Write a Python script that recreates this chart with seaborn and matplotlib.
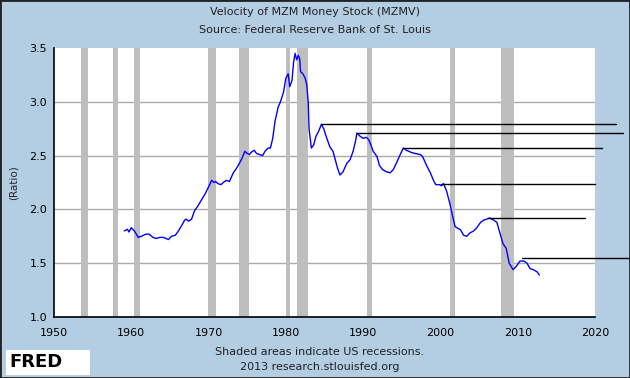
import numpy as np
import pandas as pd
import matplotlib
matplotlib.use('Agg')
import matplotlib.pyplot as plt
import seaborn as sns
from matplotlib.patches import Rectangle

# MZM velocity (year, ratio)
years = [1959.1, 1959.5, 1959.7, 1960.0, 1960.4, 1960.9, 1961.3, 1961.9, 1962.3, 1962.8,
         1963.2, 1963.7, 1964.1, 1964.5, 1964.8, 1965.2, 1965.7, 1966.1, 1966.6, 1966.9,
         1967.1, 1967.4, 1967.8, 1968.2, 1968.6, 1969.1, 1969.6, 1970.0, 1970.4, 1970.7,
         1970.9, 1971.2, 1971.6, 1971.9, 1972.3, 1972.7, 1973.2, 1973.6, 1974.0, 1974.3,
         1974.7, 1975.0, 1975.3, 1975.5, 1975.9, 1976.2, 1976.6, 1977.0, 1977.3, 1977.7,
         1978.0, 1978.3, 1978.6, 1979.0, 1979.3, 1979.7, 1980.0, 1980.3, 1980.5, 1980.8,
         1981.0, 1981.2, 1981.4, 1981.6, 1981.8, 1981.9, 1982.2, 1982.5, 1982.7, 1982.9,
         1983.0, 1983.3, 1983.6, 1983.9, 1984.2, 1984.6, 1984.9, 1985.3, 1985.7, 1986.1,
         1986.4, 1986.7, 1987.0, 1987.4, 1987.9, 1988.3, 1988.7, 1989.0, 1989.2, 1989.6,
         1990.0, 1990.4, 1990.7, 1991.0, 1991.3, 1991.8, 1992.1, 1992.5, 1993.0, 1993.5,
         1993.9, 1994.3, 1994.8, 1995.2, 1995.6, 1996.2, 1996.7, 1997.4, 1997.7, 1998.2,
         1998.7, 1999.1, 1999.4, 1999.9, 2000.1, 2000.4, 2000.8, 2001.2, 2001.6, 2001.9,
         2002.6, 2003.0, 2003.4, 2003.8, 2004.3, 2004.7, 2005.2, 2005.6, 2006.0, 2006.4,
         2006.9, 2007.3, 2007.7, 2008.1, 2008.5, 2008.9, 2009.4, 2009.8, 2010.3, 2010.8,
         2011.2, 2011.6, 2012.0, 2012.5, 2012.8]
velocity = [1.80, 1.815, 1.79, 1.83, 1.80, 1.74, 1.75, 1.77, 1.77, 1.74,
            1.73, 1.74, 1.74, 1.73, 1.72, 1.75, 1.76, 1.80, 1.86, 1.90,
            1.91, 1.89, 1.91, 1.99, 2.03, 2.09, 2.15, 2.21, 2.27, 2.25,
            2.26, 2.24, 2.23, 2.25, 2.27, 2.26, 2.34, 2.38, 2.43, 2.47,
            2.54, 2.52, 2.51, 2.53, 2.55, 2.52, 2.51, 2.50, 2.54, 2.57,
            2.57, 2.66, 2.82, 2.95, 3.00, 3.09, 3.22, 3.26, 3.14, 3.20,
            3.37, 3.45, 3.39, 3.43, 3.40, 3.28, 3.26, 3.22, 3.16, 2.99,
            2.75, 2.57, 2.60, 2.68, 2.72, 2.79, 2.75, 2.66, 2.58, 2.54,
            2.46, 2.38, 2.32, 2.35, 2.43, 2.46, 2.54, 2.63, 2.71, 2.68,
            2.66, 2.67, 2.65, 2.60, 2.54, 2.49, 2.41, 2.37, 2.35, 2.34,
            2.37, 2.43, 2.51, 2.57, 2.55, 2.53, 2.52, 2.51, 2.49, 2.41,
            2.34, 2.27, 2.23, 2.23, 2.22, 2.24, 2.17, 2.06, 1.93, 1.84,
            1.81, 1.76, 1.75, 1.78, 1.80, 1.83, 1.88, 1.90, 1.91, 1.92,
            1.90, 1.88, 1.78, 1.68, 1.64, 1.50, 1.44, 1.47, 1.52, 1.52,
            1.50, 1.45, 1.44, 1.42, 1.39]

# recessions (start, end)
rec_start = [1953.5, 1957.6, 1960.3, 1969.9, 1973.9, 1980.0, 1981.5, 1990.5, 2001.2, 2007.9]
rec_end = [1954.4, 1958.3, 1961.1, 1970.9, 1975.2, 1980.5, 1982.9, 1991.2, 2001.9, 2009.5]

# horizontal lines drawn from local peaks
peak_start = [1984.5, 1989.2, 1995.2, 2000.1, 2006.2, 2010.6]
peak_end = [2022.7, 2023.6, 2020.9, 2020.0, 2018.7, 2024.5]
peak_level = [2.79, 2.71, 2.57, 2.235, 1.917, 1.545]

df = pd.DataFrame({'year': years, 'velocity': velocity})

bg = '#b3cde3'
sns.set_style('white')
plt.rcParams['font.family'] = ['DejaVu Sans']

fig = plt.figure(figsize=(6.3, 3.78), dpi=100, facecolor=bg)
ax = fig.add_axes([54 / 630, 1 - 317 / 378, 541 / 630, 269 / 378])
ax.set_facecolor('white')

for s, e in zip(rec_start, rec_end):
    ax.axvspan(s, e, color='#bebebe', lw=0, zorder=1)

for yv in [1.5, 2.0, 2.5, 3.0]:
    ax.axhline(yv, color='#aaaaaa', lw=1, zorder=0.5)

sns.lineplot(data=df, x='year', y='velocity', ax=ax, color='#0000ff', lw=1, zorder=3)

for s, e, lv in zip(peak_start, peak_end, peak_level):
    ax.plot([s, e], [lv, lv], color='black', lw=1, clip_on=False, zorder=4)

ax.set_xlim(1950, 2020)
ax.set_ylim(1.0, 3.5)
ax.set_xticks(range(1950, 2021, 10))
ax.set_yticks([1.0, 1.5, 2.0, 2.5, 3.0, 3.5])
ax.set_yticklabels(['1.0', '1.5', '2.0', '2.5', '3.0', '3.5'])
ax.tick_params(direction='in', length=4, width=1, labelsize=8, colors='black')
ax.tick_params(axis='x', pad=8)
ax.tick_params(axis='y', pad=5)
ax.set_xlabel('')
ax.set_ylabel('(Ratio)', fontsize=7.5)
ax.yaxis.set_label_coords((19 - 54) / 541, 0.5)
for side in ['top', 'right']:
    ax.spines[side].set_visible(False)
for side in ['left', 'bottom']:
    ax.spines[side].set_color('black')
    ax.spines[side].set_linewidth(1.2)

fig.text(0.5, 1 - 12 / 378, 'Velocity of MZM Money Stock (MZMV)', ha='center', va='center',
         fontsize=8, color='#222222')
fig.text(0.5, 1 - 30 / 378, 'Source: Federal Reserve Bank of St. Louis', ha='center', va='center',
         fontsize=8, color='#222222')
fig.text(320 / 630, 1 - 352 / 378, 'Shaded areas indicate US recessions.', ha='center', va='center',
         fontsize=8, color='#222222')
fig.text(320 / 630, 1 - 367 / 378, '2013 research.stlouisfed.org', ha='center', va='center',
         fontsize=8, color='#222222')

# FRED logo box
fig.patches.append(Rectangle((6 / 630, 1 - 375 / 378), 84 / 630, 25 / 378, transform=fig.transFigure,
                             facecolor='white', edgecolor='none', zorder=5))
fig.text(9 / 630, 1 - 362 / 378, 'FRED', ha='left', va='center', fontsize=13, fontweight='bold',
         color='black', zorder=6)
fig.patches.append(Rectangle((0, 0), 1, 1, transform=fig.transFigure, fill=False,
                             edgecolor='#222222', lw=2, zorder=10))

fig.savefig('out.png', dpi=100, facecolor=bg)
